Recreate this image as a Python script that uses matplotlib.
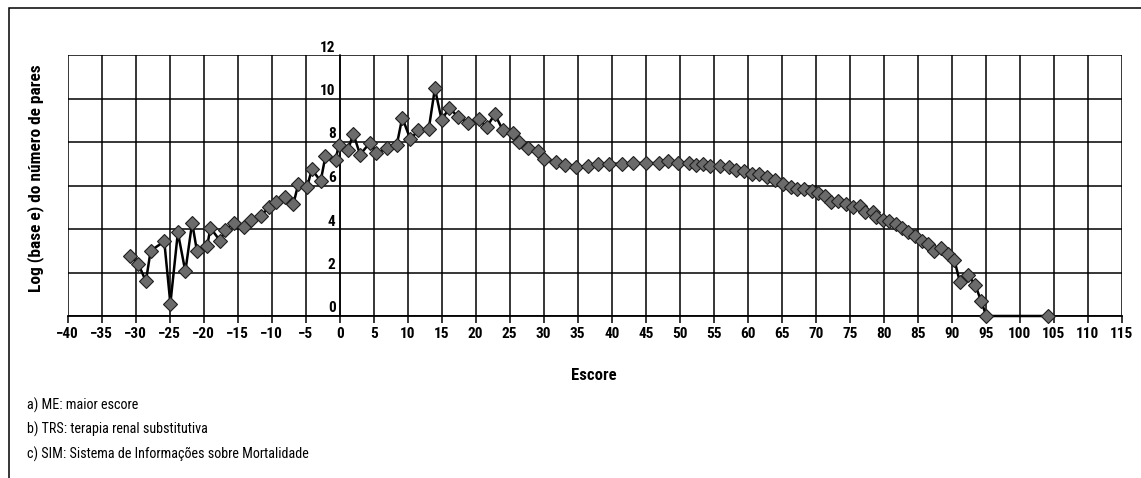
"""Log (base e) do numero de pares por escore -- recreated line chart."""
import matplotlib
matplotlib.use("Agg")
import matplotlib.pyplot as plt
import matplotlib.transforms as mtransforms
from matplotlib import font_manager
from matplotlib.patches import Rectangle

# data (score vs log of number of pairs)
escore = [-30.8, -29.6, -28.5, -27.8, -25.8, -24.9, -23.8, -22.7, -21.7, -21.0,
          -19.5, -19.0, -17.6, -16.8, -15.6, -14.0,
          -13.0, -11.5, -10.4, -9.4, -8.0, -6.8, -6.1, -4.8, -4.1, -2.8,
          -2.1, -0.6, -0.15, 1.2, 2.0, 3.0, 4.4, 5.4,
          7.0, 8.4, 9.2, 10.4, 11.5, 13.1, 14.0, 15.0, 16.1, 17.4, 18.9,
          20.5, 21.6, 22.8, 24.0,
          25.5, 26.3, 27.7, 29.2, 30.1, 31.8, 33.2, 34.8, 36.5, 38.0, 39.6,
          41.5, 43.2, 45.1, 46.9, 48.3, 49.8, 51.3, 52.4, 53.4, 54.5,
          56.0, 57.2, 58.3, 59.4, 60.6, 61.7, 62.9, 64.0, 65.2, 66.3, 67.3,
          68.3, 69.4, 70.4, 71.4, 72.2, 73.3, 74.4, 75.5, 76.5,
          77.3, 78.4, 78.9, 79.9, 80.8, 81.8, 82.7, 83.6, 84.6, 85.7, 86.5,
          87.4, 88.5, 89.4, 90.4, 91.2, 92.4, 93.5, 94.3, 95.1, 104.2]
log_pares = [2.75, 2.38, 1.6, 3.0, 3.43, 0.57, 3.84, 2.05, 4.29, 3.0,
             3.22, 4.05, 3.46, 3.95, 4.27, 4.1,
             4.43, 4.62, 5.02, 5.24, 5.45, 5.16, 6.06, 5.93, 6.74, 6.2,
             7.34, 7.18, 7.84, 7.61, 8.38, 7.42, 7.95, 7.48,
             7.72, 7.88, 9.12, 8.12, 8.53, 8.61, 10.46, 9.0, 9.58, 9.15, 8.89,
             9.07, 8.67, 9.28, 8.54,
             8.43, 8.0, 7.74, 7.58, 7.23, 7.08, 6.95, 6.85, 6.9, 7.0, 7.0,
             7.0, 7.03, 7.03, 7.03, 7.12, 7.03, 7.05, 6.92, 7.0, 6.88,
             6.9, 6.85, 6.69, 6.65, 6.54, 6.51, 6.39, 6.23, 6.08, 5.93, 5.82,
             5.85, 5.74, 5.66, 5.51, 5.24, 5.27, 5.16, 5.03, 5.08,
             4.78, 4.8, 4.55, 4.43, 4.37, 4.24, 4.06, 3.86, 3.66, 3.47, 3.32,
             3.01, 3.12, 2.83, 2.57, 1.57, 1.89, 1.41, 0.7, 0.0, 0.0]

x_ticks = list(range(-40, 116, 5))
y_ticks = [0, 2, 4, 6, 8, 10, 12]
notas = ["a) ME: maior escore",
         "b) TRS: terapia renal substitutiva",
         "c) SIM: Sistema de Informações sobre Mortalidade"]


def pick_narrow_font():
    """The original uses a condensed sans; take one if the box has it."""
    names = {f.name for f in font_manager.fontManager.ttflist}
    for cand in ("Liberation Sans Narrow", "Roboto Condensed",
                 "Open Sans Condensed", "DejaVu Sans Condensed"):
        if cand in names:
            return cand, "normal"
    for f in font_manager.fontManager.ttflist:
        if f.name == "DejaVu Sans" and f.stretch in ("condensed", 300):
            return "DejaVu Sans", "condensed"
    return "Liberation Sans", "normal"


family, stretch = pick_narrow_font()
plt.rcParams["font.family"] = [family, "DejaVu Sans"]
plt.rcParams["font.stretch"] = stretch
narrow = family != "Liberation Sans"
fs_tick = 11 if narrow else 8.5
fs_lab = 12.5 if narrow else 10
fs_esc = 12 if narrow else 9.5
fs_note = 10.2 if narrow else 8

W, H = 1141, 478
fig = plt.figure(figsize=(W / 100, H / 100), dpi=100)
ax = fig.add_axes([67.7 / W, 1 - 316 / H, (1121.7 - 67.7) / W, (316 - 55) / H])

# not clipped: the tail of the series runs along y = 0
ax.plot(escore, log_pares, "-", color="black", lw=1.8, zorder=3, clip_on=False,
        marker="D", ms=7.6, mfc="#6b6b6b", mec="#1e1e1e", mew=0.8)

ax.set_xlim(-40, 115)
ax.set_ylim(0, 12)
ax.set_xticks(x_ticks)
ax.set_yticks(y_ticks)
ax.grid(True, color="black", lw=1.1)
ax.set_axisbelow(True)

for s in ("top", "right"):
    ax.spines[s].set_visible(False)
ax.spines["bottom"].set_linewidth(1.3)
ax.spines["left"].set_position(("data", 0))
ax.spines["left"].set_linewidth(1.1)

ax.tick_params(axis="x", direction="out", length=5, width=1.1, pad=3,
               labelsize=fs_tick)
ax.tick_params(axis="y", length=0, pad=3, labelsize=fs_tick)
for lab in ax.get_xticklabels() + ax.get_yticklabels():
    lab.set_fontweight("bold")
# y labels sit a little above their gridlines, as in the original
shift = mtransforms.ScaledTranslation(0, 9 / 100, fig.dpi_scale_trans)
for lab in ax.get_yticklabels():
    lab.set_transform(lab.get_transform() + shift)

fig.text(36 / W, 1 - 178 / H, "Log (base e) do número de pares", rotation=90,
         ha="center", va="center", fontsize=fs_lab, fontweight="bold")
fig.text(594 / W, 1 - 376 / H, "Escore", ha="center", va="center",
         fontsize=fs_esc, fontweight="bold")
for i, nota in enumerate(notas):
    fig.text(27 / W, 1 - (405 + 24.5 * i) / H, nota, ha="left", va="center",
             fontsize=fs_note)

# outer frame (only left and top edges fall inside the image)
fig.patches.append(Rectangle((9 / W, -0.5), 2, 1.5 - 8 / H, fill=False,
                             lw=1.1, ec="black", transform=fig.transFigure))

fig.savefig("out.png", dpi=100)
